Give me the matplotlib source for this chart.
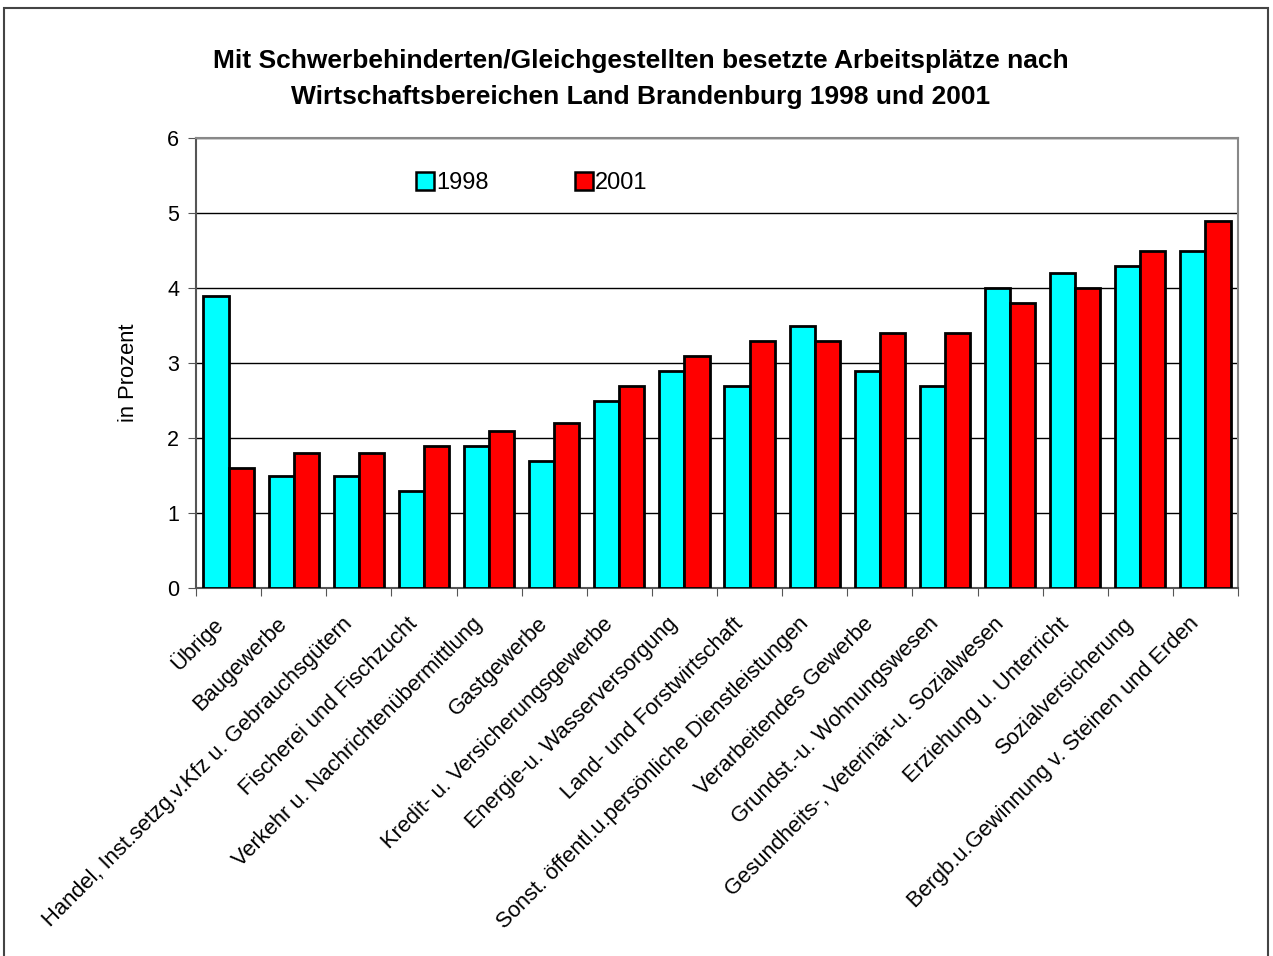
import matplotlib.pyplot as plt
import matplotlib.patches as patches
import matplotlib.transforms as mtransforms
from matplotlib.lines import Line2D
import numpy as np

plt.rcParams['font.family'] = ['Liberation Sans', 'DejaVu Sans']

categories = [
    'Übrige',
    'Baugewerbe',
    'Handel, Inst.setzg.v.Kfz u. Gebrauchsgütern',
    'Fischerei und Fischzucht',
    'Verkehr u. Nachrichtenübermittlung',
    'Gastgewerbe',
    'Kredit- u. Versicherungsgewerbe',
    'Energie-u. Wasserversorgung',
    'Land- und Forstwirtschaft',
    'Sonst. öffentl.u.persönliche Dienstleistungen',
    'Verarbeitendes Gewerbe',
    'Grundst.-u. Wohnungswesen',
    'Gesundheits-, Veterinär-u. Sozialwesen',
    'Erziehung u. Unterricht',
    'Sozialversicherung',
    'Bergb.u.Gewinnung v. Steinen und Erden',
]
values_1998 = [3.9, 1.5, 1.5, 1.3, 1.9, 1.7, 2.5, 2.9, 2.7, 3.5, 2.9, 2.7, 4.0, 4.2, 4.3, 4.5]
values_2001 = [1.6, 1.8, 1.8, 1.9, 2.1, 2.2, 2.7, 3.1, 3.3, 3.3, 3.4, 3.4, 3.8, 4.0, 4.5, 4.9]
series_labels = ['1998', '2001']

dpi = 100
fig = plt.figure(figsize=(12.73, 9.56), dpi=dpi)
W, H = 1273, 956
ax = fig.add_axes([196 / W, 1 - 588 / H, (1238 - 196) / W, (588 - 138) / H])

x = np.arange(len(categories))
bw = 0.385
ax.bar(x - bw / 2, values_1998, width=bw, color='#00FFFF', edgecolor='black', linewidth=2.0, zorder=3)
ax.bar(x + bw / 2, values_2001, width=bw, color='#FF0000', edgecolor='black', linewidth=2.0, zorder=3)

ax.set_xlim(-0.5, len(categories) - 0.5)
ax.set_ylim(0, 6)
ax.set_yticks(range(0, 7))
ax.yaxis.grid(True, color='black', linewidth=1)
ax.set_axisbelow(True)

# ticks between the categories, labels under the centres
ax.set_xticks(np.arange(-0.5, len(categories), 1))
ax.set_xticklabels([])
ax.set_xticks(x, minor=True)
ax.set_xticklabels(categories, minor=True, rotation=45, ha='right', va='top',
                   rotation_mode='anchor', fontsize=15.8)
ax.tick_params(axis='x', which='minor', length=0, pad=14)
ax.tick_params(axis='x', which='major', length=6, color='#555555', direction='out')
ax.tick_params(axis='y', length=6, color='#555555', direction='out', labelsize=15.5, pad=6)
shift = mtransforms.ScaledTranslation(-0.17, -0.06, fig.dpi_scale_trans)
for lbl in ax.get_xticklabels(minor=True):
    lbl.set_transform(lbl.get_transform() + shift)

for side in ['top', 'right']:
    ax.spines[side].set_color('#888888')
    ax.spines[side].set_linewidth(1.5)
for side in ['left', 'bottom']:
    ax.spines[side].set_color('#555555')
    ax.spines[side].set_linewidth(1.5)

ax.set_ylabel('in Prozent', fontsize=15.8)
ax.yaxis.set_label_coords((139 - 196) / (1238 - 196), (588 - 373) / (588 - 138))

handles = [
    Line2D([], [], marker='s', linestyle='none', markersize=12.5, markerfacecolor='#00FFFF',
           markeredgecolor='black', markeredgewidth=1.8),
    Line2D([], [], marker='s', linestyle='none', markersize=12.5, markerfacecolor='#FF0000',
           markeredgecolor='black', markeredgewidth=1.8),
]
leg = ax.legend(handles, series_labels, ncol=2, frameon=False, fontsize=17,
                loc='center', bbox_to_anchor=((531 - 196) / (1238 - 196), (588 - 183) / (588 - 138)),
                handletextpad=0.05, columnspacing=3.55, handlelength=0.9)

fig.text(641 / W, 1 - 79 / H,
         'Mit Schwerbehinderten/Gleichgestellten besetzte Arbeitsplätze nach\n'
         'Wirtschaftsbereichen Land Brandenburg 1998 und 2001',
         ha='center', va='center', fontsize=19, fontweight='bold', linespacing=1.58)

# outer chart border
fig.patches.append(patches.Rectangle((4 / W, -0.01), (1268 - 4) / W, 1.01 - 8 / H,
                                     transform=fig.transFigure, fill=False,
                                     edgecolor='#444444', linewidth=1.5))

fig.savefig('out.png', dpi=dpi)
